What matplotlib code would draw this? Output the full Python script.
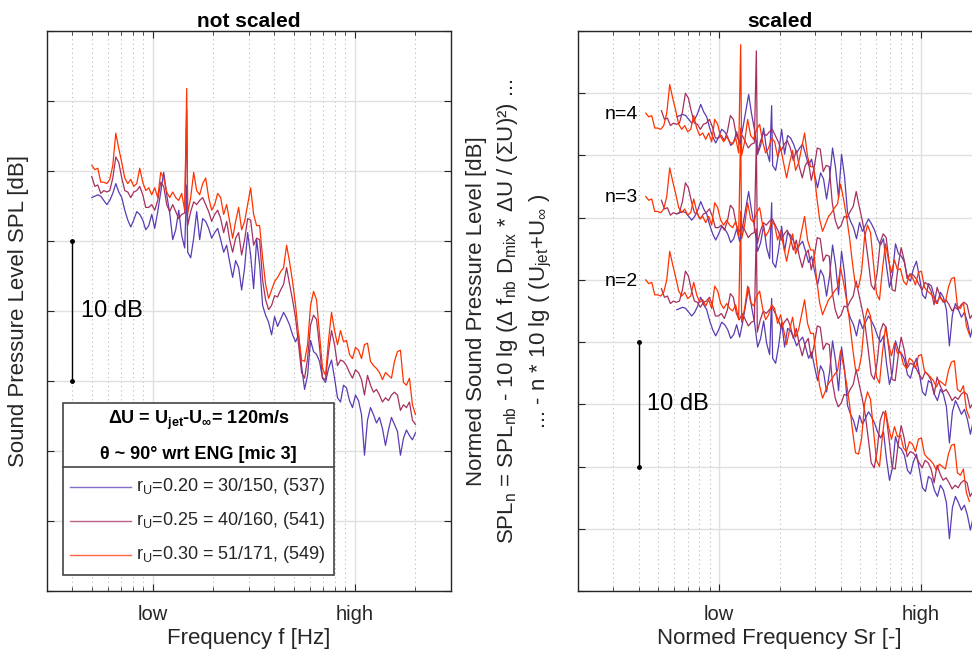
import numpy as np
import matplotlib
matplotlib.use("Agg")
import matplotlib.pyplot as plt
from matplotlib.ticker import FixedLocator, LogLocator, NullFormatter
from matplotlib.patches import Rectangle
from matplotlib.lines import Line2D

plt.rcParams["font.family"] = ["Liberation Sans", "DejaVu Sans"]
plt.rcParams["mathtext.default"] = "regular"

# narrow-band spectra [dB], read off the "not scaled" panel,
# sampled log-evenly between f_start and f_end (relative: low = 1, high = 10)
f_start, f_end = 0.5, 20.0

spl_blue = [28.1, 28.2, 28.3, 28.2, 27.9, 27.6, 27.9, 28.4, 29.1, 28.5,
            28.1, 27.2, 26.5, 26.0, 26.5, 27.1, 26.9, 26.5, 25.8, 26.1,
            26.9, 25.9, 27.1, 28.5, 29.9, 28.3, 27.0, 25.1, 25.8, 27.2,
            25.4, 24.5, 24.2, 23.8, 25.2, 27.1, 25.1, 26.6, 26.4, 25.9,
            25.2, 25.6, 25.9, 25.1, 24.2, 24.7, 23.5, 22.4, 23.6, 23.1,
            21.5, 23.1, 25.6, 24.0, 21.6, 25.1, 23.3, 20.4, 19.7, 19.2,
            18.3, 19.6, 18.9, 19.4, 19.9, 19.5, 19.0, 18.3, 17.8, 18.3,
            16.1, 14.4, 15.4, 17.9, 17.1, 16.9, 16.4, 15.2, 14.9, 15.9,
            16.5, 15.2, 13.8, 13.5, 14.7, 14.5, 13.6, 13.1, 14.0, 13.6,
            12.6, 9.7, 12.2, 13.1, 12.6, 12.0, 12.4, 11.6, 10.4, 11.5,
            12.4, 11.9, 11.4, 9.7, 10.9, 11.5, 11.1, 10.8, 11.3]

spl_maroon = [29.6, 28.9, 29.0, 28.4, 28.6, 28.5, 28.6, 29.5, 31.0, 30.6,
              29.5, 28.6, 28.5, 28.1, 28.5, 28.6, 28.9, 28.3, 27.4, 27.4,
              27.6, 27.2, 27.9, 29.2, 28.9, 27.6, 27.1, 27.6, 27.1, 26.6,
              26.9, 27.0, 26.1, 27.1, 27.8, 27.6, 27.9, 28.1, 27.6, 27.1,
              26.4, 26.9, 27.2, 26.6, 25.6, 26.4, 25.1, 24.2, 25.2, 25.6,
              24.0, 25.1, 26.6, 26.5, 24.7, 25.2, 25.1, 22.2, 20.8, 20.1,
              20.4, 21.1, 21.0, 21.5, 21.9, 23.1, 21.9, 20.8, 19.5, 17.6,
              15.6, 15.2, 16.6, 19.0, 19.7, 19.4, 17.4, 15.2, 15.1, 17.1,
              18.6, 17.6, 16.1, 16.5, 16.4, 16.1, 15.6, 15.2, 15.8, 15.6,
              15.1, 14.0, 15.4, 14.7, 14.2, 14.4, 14.0, 13.5, 13.8, 13.6,
              14.0, 14.2, 14.0, 12.9, 13.3, 13.1, 13.5, 12.2, 11.9]

spl_red = [30.4, 30.1, 30.2, 29.2, 29.2, 29.1, 29.4, 30.4, 32.7, 31.6,
           30.6, 29.5, 29.1, 29.4, 28.9, 29.1, 30.2, 29.2, 28.6, 28.8,
           28.3, 28.8, 28.1, 29.9, 29.5, 28.5, 28.1, 28.5, 28.1, 27.9,
           28.4, 27.2, 27.0, 28.1, 29.9, 28.6, 28.3, 29.1, 29.5, 28.1,
           27.2, 27.6, 28.4, 28.1, 26.9, 27.6, 26.4, 25.2, 26.4, 27.4,
           25.8, 26.4, 27.6, 28.8, 26.9, 26.1, 26.1, 23.8, 21.9, 20.9,
           21.5, 22.1, 22.4, 22.8, 23.1, 24.7, 23.5, 22.1, 20.4, 18.3,
           16.5, 16.4, 17.6, 20.4, 21.4, 20.8, 18.3, 15.9, 15.4, 17.9,
           19.9, 18.6, 17.6, 18.6, 17.8, 17.9, 16.9, 16.6, 17.4, 17.2,
           16.6, 17.6, 17.7, 16.4, 16.1, 15.9, 15.6, 15.1, 15.6, 15.4,
           15.2, 16.4, 17.1, 17.2, 14.9, 14.7, 15.2, 13.3, 12.6]

# tonal peak (same frequency in all runs)
tone_f = 1.475
tone_db = [29.0, 34.4, 35.9]

run_spl = [spl_blue, spl_maroon, spl_red]
run_colors = ["#5a3cb4", "#a5305f", "#ff3300"]
run_labels = ["r$_U$=0.20 = 30/150, (537)",
              "r$_U$=0.25 = 40/160, (541)",
              "r$_U$=0.30 = 51/171, (549)"]

# scaling: Sr = f * factor, SPL_n = SPL + offset[n]
sr_factor = [1.237, 1.039, 0.869]
n_values = [2, 3, 4]
n_offset = {2: [-5.5, -5.3, -5.4],
            3: [2.2, 1.8, 1.3],
            4: [10.0, 9.0, 8.0]}

freq = np.geomspace(f_start, f_end, len(spl_red))


def with_tone(levels, tone_level):
    k = np.searchsorted(freq, tone_f)
    return (np.insert(freq, k, tone_f),
            np.insert(np.asarray(levels, float), k, tone_level))


INK = "#262626"


def style_axes(ax, xlim, ylim):
    ax.set_xscale("log")
    ax.set_xlim(*xlim)
    ax.set_ylim(*ylim)
    ax.xaxis.set_major_locator(FixedLocator([1, 10]))
    ax.set_xticklabels(["low", "high"])
    ax.xaxis.set_minor_locator(LogLocator(base=10, subs=np.arange(2, 10), numticks=20))
    ax.xaxis.set_minor_formatter(NullFormatter())
    ax.set_yticks(np.arange(ylim[0], ylim[1] + 0.1, 5))
    ax.set_yticklabels([])
    ax.grid(which="major", color="#e0e0e0", lw=1.0)
    ax.grid(which="minor", axis="x", color="#b8b8b8", lw=0.8, ls=(0, (1, 3)))
    ax.set_axisbelow(True)
    ax.tick_params(which="both", direction="in", top=True, right=True,
                   color=INK, labelcolor=INK)
    ax.tick_params(which="major", length=5, width=0.8, labelsize=14.5, pad=10)
    ax.tick_params(which="minor", length=3, width=0.6)
    for sp in ax.spines.values():
        sp.set_color(INK)
        sp.set_linewidth(1.0)


W, H = 972, 662
fig = plt.figure(figsize=(W / 100, H / 100), dpi=100)
ax1 = fig.add_axes([47 / W, 71 / H, 404 / W, 560 / H])
ax2 = fig.add_axes([577.7 / W, 71 / H, 404 / W, 560 / H])

# ---- not scaled
for spl, tl, c in zip(run_spl, tone_db, run_colors):
    f, s = with_tone(spl, tl)
    ax1.plot(f, s, color=c, lw=0.9)
style_axes(ax1, (0.3, 30), (0, 40))
ax1.set_title("not scaled", fontsize=15, fontweight="bold", pad=3, color="black")
ax1.set_xlabel("Frequency f [Hz]", fontsize=16, labelpad=3, color=INK)
fig.text(19 / W, 1 - 311 / H, "Sound Pressure Level SPL [dB]", rotation=90,
         ha="center", va="center", fontsize=16, color=INK)

ax1.plot([0.4, 0.4], [15, 25], color="black", lw=1.0, marker="o", ms=2.5)
ax1.text(0.44, 20, "10 dB", fontsize=17, ha="left", va="center", color="black")

# legend box drawn by hand (header + separator like the original)
ax1.add_patch(Rectangle((0.0403, 0.0286), 0.6701, 0.3066, transform=ax1.transAxes,
                        facecolor="white", edgecolor="#444444", lw=1.2, zorder=5))
ax1.add_line(Line2D([0.0403, 0.7104], [0.222, 0.222], transform=ax1.transAxes,
                    color="#444444", lw=1.2, zorder=6))
ax1.text(0.375, 0.3054, "ΔU = U$_{jet}$-U$_{∞}$= 120m/s", transform=ax1.transAxes,
         ha="center", va="center", fontsize=13, fontweight="bold", zorder=7)
ax1.text(0.375, 0.2446, "θ ~ 90° wrt ENG [mic 3]", transform=ax1.transAxes,
         ha="center", va="center", fontsize=13, fontweight="bold", zorder=7)
for k, (lab, c) in enumerate(zip(run_labels, run_colors)):
    yy = 0.1862 - k * 0.0609
    ax1.add_line(Line2D([0.0569, 0.2072], [yy, yy], transform=ax1.transAxes,
                        color=c, lw=1.0, alpha=0.75, zorder=7))
    ax1.text(0.2195, yy, lab, transform=ax1.transAxes, ha="left", va="center",
             fontsize=13, color=INK, zorder=7)

# ---- scaled
for n in n_values:
    for spl, tl, c, k, off in zip(run_spl, tone_db, run_colors, sr_factor, n_offset[n]):
        f, s = with_tone(spl, tl)
        ax2.plot(f * k, s + off, color=c, lw=0.9)
style_axes(ax2, (0.2, 20), (0, 45))
ax2.set_title("scaled", fontsize=15, fontweight="bold", pad=3, color="black")
ax2.set_xlabel("Normed Frequency Sr [-]", fontsize=16, labelpad=3, color=INK)

ax2.plot([0.4, 0.4], [10, 20], color="black", lw=1.0, marker="o", ms=2.5)
ax2.text(0.44, 15, "10 dB", fontsize=17, ha="left", va="center", color="black")
for n, yy in zip(n_values, [24.9, 31.6, 38.3]):
    ax2.text(0.273, yy, f"n={n}", fontsize=14, ha="left", va="center", color="black")

ylab2 = ["Normed Sound Pressure Level [dB]",
         "SPL$_n$ = SPL$_{nb}$ - 10 lg (Δ f$_{nb}$ D$_{mix}$ * ΔU / (ΣU)²) ...",
         "... - n * 10 lg ( (U$_{jet}$+U$_{∞}$ )"]
for xx, t in zip([476, 507, 541], ylab2):
    fig.text(xx / W, 1 - 311 / H, t, rotation=90, ha="center", va="center",
             fontsize=16, color=INK)

fig.savefig("out.png", dpi=100)
